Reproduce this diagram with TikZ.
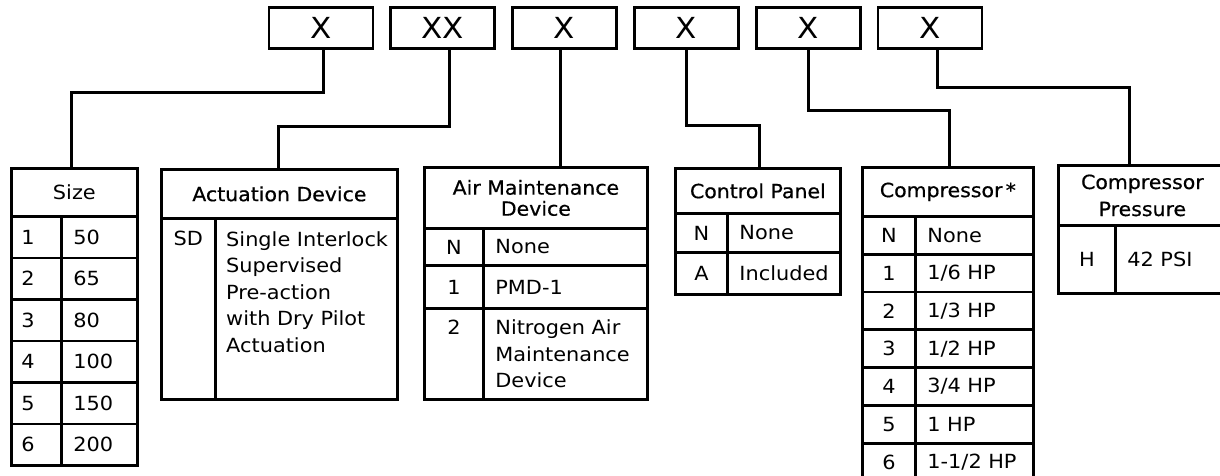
\documentclass[tikz,border=0pt]{standalone}
\usepackage{fontspec}
\setmainfont{DejaVu Sans}[FakeStretch=1.07]
\newfontfamily\headfont{DejaVu Sans}[FakeStretch=1.05, FakeBold=0.6]
\usetikzlibrary{positioning}

\begin{document}
\begin{tikzpicture}[
    x=1pt, y=-1pt,
    node distance=15pt,
    font=\fontsize{19.5}{26.5}\selectfont,
    codebox/.style={rectangle, draw, line width=2.8pt, minimum width=104pt,
                    minimum height=41pt, font=\fontsize{29}{29}\selectfont},
    head/.style={rectangle, draw, line width=2.8pt, anchor=north west,
                 align=center, inner sep=0pt},
    key/.style={rectangle, draw, line width=2.8pt, anchor=north west,
                inner sep=0pt},
    val/.style={rectangle, draw, line width=2.8pt, anchor=north west,
                align=left, inner xsep=12pt, inner ysep=0pt},
    txt/.style={inner sep=0pt, align=left},
    link/.style={line width=3pt}
]
  \useasboundingbox (0,0) rectangle (1220,475);

  % model code
  \node[codebox] (c1) at (321,28) {X};
  \node[codebox, right=of c1] (c2) {XX};
  \node[codebox, right=of c2] (c3) {X};
  \node[codebox, right=of c3] (c4) {X};
  \node[codebox, right=of c4] (c5) {X};
  \node[codebox, right=of c5] (c6) {X};

  % size
  \node[head, minimum width=126pt, minimum height=48pt] (sizeH) at (10,167) {Size};
  \foreach \k/\v [count=\i] in {1/50,2/65,3/80,4/100,5/150,6/200} {
    \node[key, minimum height=41.5pt, text width=30pt, inner xsep=10pt, align=left]
      (sizeK\i) at (10,{215+41.5*(\i-1)}) {\k};
    \node[val, minimum height=41.5pt, text width=52pt]
      (sizeV\i) at (60,{215+41.5*(\i-1)}) {\v};
  }

  % actuation device
  \node[head, minimum width=236pt, minimum height=49pt] (actH) at (160,168)
    {\headfont Actuation Device};
  \node[key, minimum width=54pt, minimum height=181pt] (actK) at (160,217) {};
  \node[val, minimum height=181pt, text width=158pt] (actV) at (214,217) {};
  \node[txt, anchor=north] (actKt) at ([yshift=-14pt]actK.north) {SD};
  \node[txt, anchor=north west] (actVt) at ([shift={(12pt,-14pt)}]actV.north west)
    {Single Interlock\\Supervised\\Pre-action\\with Dry Pilot\\Actuation};

  % air maintenance device
  \node[head, minimum width=223pt, minimum height=61pt, font=\fontsize{19.5}{21}\selectfont\headfont]
    (airH) at (423,166) {Air Maintenance\\Device};
  \node[key, minimum width=59pt, minimum height=37pt] (airK1) at (423,227) {N};
  \node[val, minimum height=37pt, text width=140pt] (airV1) at (482,227) {None};
  \node[key, minimum width=59pt, minimum height=43pt] (airK2) at (423,264) {1};
  \node[val, minimum height=43pt, text width=140pt] (airV2) at (482,264) {PMD-1};
  \node[key, minimum width=59pt, minimum height=91pt] (airK3) at (423,307) {};
  \node[val, minimum height=91pt, text width=140pt] (airV3) at (482,307)
    {Nitrogen Air\\Maintenance\\Device};
  \node[txt, anchor=north] (airK3t) at ([yshift=-13pt]airK3.north) {2};

  % control panel
  \node[head, minimum width=165pt, minimum height=45pt] (ctlH) at (674,167)
    {\headfont Control Panel};
  \node[key, minimum width=52pt, minimum height=39pt] (ctlK1) at (674,212) {N};
  \node[val, minimum height=39pt, text width=89pt] (ctlV1) at (726,212) {None};
  \node[key, minimum width=52pt, minimum height=42pt] (ctlK2) at (674,251) {A};
  \node[val, minimum height=42pt, text width=89pt] (ctlV2) at (726,251) {Included};

  % compressor
  \node[head, minimum width=171pt, minimum height=49pt] (cmpH) at (861,166)
    {\headfont Compressor\,*};
  \foreach \k/\v [count=\i] in {N/None,1/{1/6 HP},2/{1/3 HP},3/{1/2 HP},4/{3/4 HP},5/{1 HP},6/{1-1/2 HP}} {
    \node[key, minimum width=53pt, minimum height=37.8pt]
      (cmpK\i) at (861,{215+37.8*(\i-1)}) {\k};
    \node[val, minimum height=37.8pt, text width=94pt]
      (cmpV\i) at (914,{215+37.8*(\i-1)}) {\v};
  }

  % compressor pressure
  \node[head, minimum width=168pt, minimum height=60pt, font=\fontsize{19.5}{27}\selectfont\headfont]
    (prsH) at (1057,164) {Compressor\\Pressure};
  \node[key, minimum width=57pt, minimum height=68pt] (prsK) at (1057,224) {H};
  \node[val, minimum height=68pt, text width=87pt] (prsV) at (1114,224) {42 PSI};

  % connectors
  \draw[link] ([xshift=2pt]c1.south) -- ++(0,43) -| ([xshift=-3pt]sizeH.north);
  \draw[link] ([xshift=7pt]c2.south) -- ++(0,77) -| ([xshift=-1pt]actH.north);
  \draw[link] ([xshift=-4pt]c3.south) -- ([xshift=-4pt]c3.south |- airH.north);
  \draw[link] (c4.south) -- ++(0,76) -| ([xshift=2pt]ctlH.north);
  \draw[link] (c5.south) -- ++(0,61) -| ([xshift=1.5pt]cmpH.north);
  \draw[link] ([xshift=7pt]c6.south) -- ++(0,38) -| ([xshift=-13pt]prsH.north);
\end{tikzpicture}
\end{document}
